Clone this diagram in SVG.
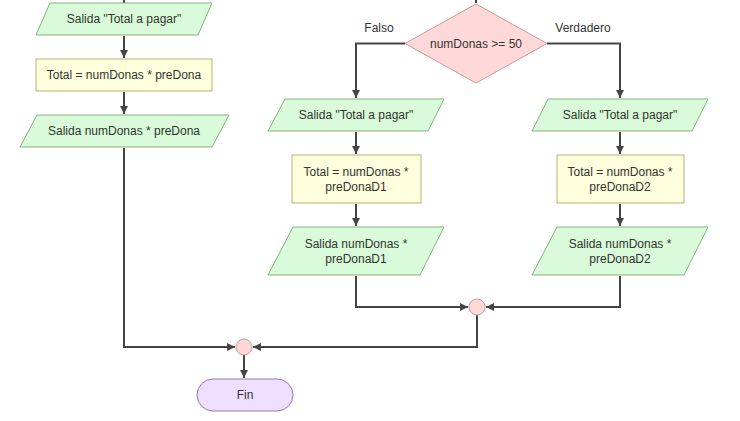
<svg xmlns="http://www.w3.org/2000/svg" width="740" height="421" viewBox="0 0 740 421">
<defs>
<marker id="arr" markerUnits="userSpaceOnUse" markerWidth="10" markerHeight="10" refX="9" refY="5" orient="auto">
<path d="M1,1 L9,5 L1,9 Z" fill="#444"/>
</marker>
<style>
.io{fill:#d9fbd9;stroke:#82b282;stroke-width:1}
.pr{fill:#ffffdd;stroke:#b3b37a;stroke-width:1}
.dc{fill:#ffd9d9;stroke:#c99a9a;stroke-width:1}
.jn{fill:#ffd9d9;stroke:#c99a9a;stroke-width:1}
.tm{fill:#eedfff;stroke:#9a78b0;stroke-width:1}
.ln{fill:none;stroke:#444;stroke-width:2}
text{font-family:"Liberation Sans",Arial,sans-serif;font-size:12px;fill:#333;text-anchor:middle}
</style>
</defs>
<rect width="740" height="421" fill="#fff"/>
<g id="connectors">
<path class="ln" d="M124,0 V34" marker-end="url(#arr)"/>
<path class="ln" d="M124,36 V58" marker-end="url(#arr)"/>
<path class="ln" d="M124,92 V114" marker-end="url(#arr)"/>
<path class="ln" d="M124,148 V347 H235" marker-end="url(#arr)"/>
<path class="ln" d="M476,0 V3"/>
<path class="ln" d="M405,43.5 H356 V98" marker-end="url(#arr)"/>
<path class="ln" d="M547,43.5 H620 V98" marker-end="url(#arr)"/>
<path class="ln" d="M356,132 V154" marker-end="url(#arr)"/>
<path class="ln" d="M356,204 V226" marker-end="url(#arr)"/>
<path class="ln" d="M620,132 V154" marker-end="url(#arr)"/>
<path class="ln" d="M620,204 V226" marker-end="url(#arr)"/>
<path class="ln" d="M356,276 V307 H468" marker-end="url(#arr)"/>
<path class="ln" d="M620,276 V307 H486" marker-end="url(#arr)"/>
<path class="ln" d="M477,315 V347 H253" marker-end="url(#arr)"/>
<path class="ln" d="M244,355 V378" marker-end="url(#arr)"/>
<text x="379" y="32">Falso</text>
<text x="583" y="32">Verdadero</text>
</g>
<g id="out1"><polygon class="io" points="50,3 212,3 198,35 36,35"/><text x="124" y="23">Salida "Total a pagar"</text></g>
<g id="calc1"><rect class="pr" x="36" y="59" width="176" height="32"/><text x="124" y="79">Total = numDonas * preDona</text></g>
<g id="out2"><polygon class="io" points="37,115 229,115 212,147 20,147"/><text x="124" y="135">Salida numDonas * preDona</text></g>
<g id="decision"><polygon class="dc" points="476,4 547,43.5 476,83 405,43.5"/><text x="476" y="48">numDonas &gt;= 50</text></g>
<g id="outF1"><polygon class="io" points="285,99 444,99 428,131 268,131"/><text x="356" y="119">Salida "Total a pagar"</text></g>
<g id="calcF"><rect class="pr" x="292" y="155" width="129" height="48"/><text x="356" y="176">Total = numDonas *</text><text x="356" y="191">preDonaD1</text></g>
<g id="outF2"><polygon class="io" points="293,227 444,227 420,275 268,275"/><text x="356" y="248">Salida numDonas *</text><text x="356" y="263">preDonaD1</text></g>
<g id="outV1"><polygon class="io" points="548,99 708,99 692,131 532,131"/><text x="620" y="119">Salida "Total a pagar"</text></g>
<g id="calcV"><rect class="pr" x="557" y="155" width="127" height="48"/><text x="620" y="176">Total = numDonas *</text><text x="620" y="191">preDonaD2</text></g>
<g id="outV2"><polygon class="io" points="557,227 708,227 684,275 532,275"/><text x="620" y="248">Salida numDonas *</text><text x="620" y="263">preDonaD2</text></g>
<g id="join1"><circle class="jn" cx="477" cy="307" r="8"/></g>
<g id="join2"><circle class="jn" cx="244" cy="347" r="8"/></g>
<g id="fin"><rect class="tm" x="197" y="379" width="96" height="32" rx="16"/><text x="245" y="399">Fin</text></g>
</svg>
